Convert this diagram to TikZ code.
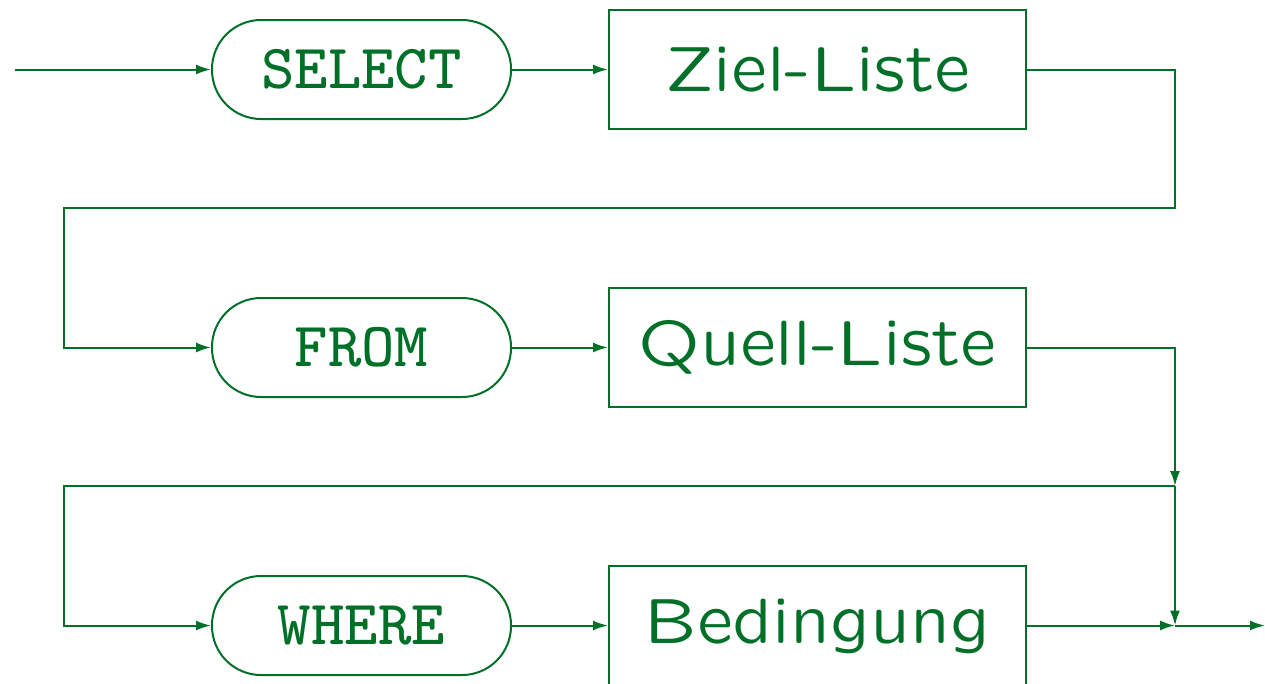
\documentclass[tikz,border=0pt]{standalone}
\usetikzlibrary{arrows.meta}
\definecolor{sg}{RGB}{0,112,40}
\font\kwfont=cmtt8 at 63pt
\font\ntfont=lcmss8 at 64pt
\begin{document}
\begin{tikzpicture}[x=1pt,y=-1pt,
  line width=2pt, draw=sg, color=sg, line join=miter,
  kw/.style={draw, rounded corners=49pt, minimum width=299pt, minimum height=99pt, inner sep=0pt,
    font=\kwfont},
  nt/.style={draw, minimum width=417pt, minimum height=119pt, inner sep=0pt,
    font=\ntfont},
  arr/.style={-{Latex[length=15pt,width=10pt]}}]
\useasboundingbox (0,0) rectangle (1265,683);
\node[kw] (s) at (361.5,69.5) {SELECT};
\node[nt] (z) at (817.5,69.5) {Ziel-Liste};
\node[kw] (f) at (361.5,347.5) {FROM};
\node[nt] (q) at (817.5,347.5) {Quell-Liste};
\node[kw] (w) at (361.5,625.5) {WHERE};
\node[nt] (b) at (817.5,625.5) {Bedingung};
\coordinate (start) at (15,69.5);
\coordinate (j1) at (1175,486);
\coordinate (j2) at (1175,625.5);
\coordinate (e) at (1265,625.5);
\draw[arr] (start) -- (s.west);
\draw[arr] (s.east) -- (z.west);
\draw[arr] (z.east) -- (1175,69.5) -- (1175,208) -- (64,208) -- (64,347.5) -- (f.west);
\draw[arr] (f.east) -- (q.west);
\draw[arr] (q.east) -- (1175,347.5) -- (j1);
\draw[arr] (j1) -- (64,486) -- (64,625.5) -- (w.west);
\draw[arr] (w.east) -- (b.west);
\draw[arr] (j1) -- (j2);
\draw[arr] (b.east) -- (j2);
\draw[arr] (j2) -- (e);
\end{tikzpicture}
\end{document}
